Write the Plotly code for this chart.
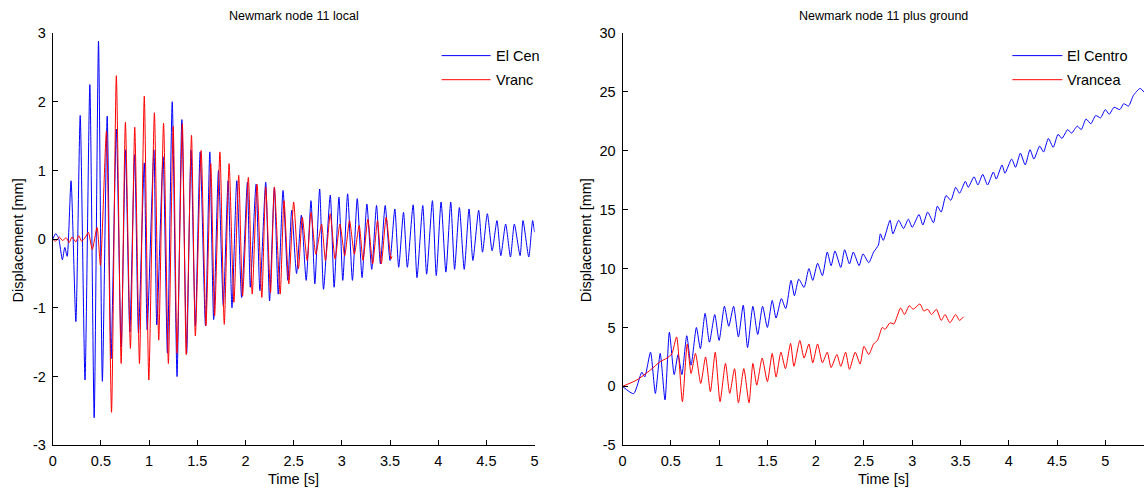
import plotly.graph_objects as go

# ---------------------------------------------------------------------------
# Newmark time-history results for node 11 (time in s, displacement in mm).
# Each series is listed as successive turning points of the response.
# ---------------------------------------------------------------------------

SERIES_NAMES = ["El Centro", "Vrancea"]
SERIES_COLORS = ["#0000ff", "#ff0000"]

# Relative (local) displacement, El Centro record
ELC_LOCAL_T = [0.00, 0.03, 0.06, 0.10, 0.125, 0.15, 0.19, 0.24, 0.285, 0.335,
               0.385, 0.43, 0.475, 0.515, 0.565, 0.605, 0.66, 0.71, 0.755, 0.80,
               0.85, 0.89, 0.95, 0.98, 1.05, 1.08, 1.145, 1.19, 1.24, 1.29,
               1.34, 1.39, 1.435, 1.48, 1.53, 1.585, 1.63, 1.67, 1.72, 1.77,
               1.82, 1.86, 1.91, 1.96, 2.02, 2.05, 2.11, 2.15, 2.21, 2.25,
               2.30, 2.34, 2.39, 2.44, 2.48, 2.53, 2.58, 2.63, 2.68, 2.72,
               2.77, 2.81, 2.88, 2.92, 2.97, 3.01, 3.06, 3.11, 3.16, 3.21,
               3.26, 3.31, 3.36, 3.40, 3.45, 3.50, 3.55, 3.59, 3.64, 3.68,
               3.74, 3.78, 3.84, 3.88, 3.94, 3.98, 4.03, 4.08, 4.13, 4.17,
               4.22, 4.27, 4.32, 4.36, 4.42, 4.46, 4.51, 4.56, 4.61, 4.65,
               4.70, 4.75, 4.79, 4.85, 4.88, 4.94, 4.98, 5.00]
ELC_LOCAL_U = [0.00, 0.08, 0.02, -0.30, -0.12, -0.25, 0.85, -1.20, 1.80, -2.05,
               2.25, -2.60, 2.88, -2.07, 1.79, -1.74, 1.60, -1.57, 1.30, -1.35,
               1.23, -1.37, 1.11, -1.32, 1.30, -1.25, 1.20, -1.66, 2.00, -2.00,
               1.74, -1.66, 1.30, -1.26, 1.27, -1.26, 1.27, -1.17, 1.00, -0.97,
               0.85, -1.00, 0.85, -0.85, 0.83, -0.70, 0.80, -0.75, 0.83, -0.90,
               0.75, -0.80, 0.71, -0.60, 0.42, -0.50, 0.35, -0.60, 0.56, -0.65,
               0.73, -0.73, 0.64, -0.70, 0.61, -0.60, 0.66, -0.60, 0.59, -0.56,
               0.51, -0.44, 0.49, -0.36, 0.49, -0.31, 0.44, -0.41, 0.39, -0.41,
               0.50, -0.56, 0.49, -0.51, 0.56, -0.53, 0.54, -0.48, 0.54, -0.44,
               0.46, -0.44, 0.44, -0.31, 0.42, -0.19, 0.37, -0.17, 0.27, -0.24,
               0.22, -0.26, 0.22, -0.24, 0.27, -0.26, 0.27, 0.10]

# Relative (local) displacement, Vrancea record
VRN_LOCAL_T = [0.00, 0.03, 0.07, 0.10, 0.14, 0.17, 0.20, 0.24, 0.27, 0.30,
               0.34, 0.37, 0.41, 0.46, 0.495, 0.557, 0.61, 0.66, 0.71, 0.754,
               0.806, 0.851, 0.90, 0.95, 0.997, 1.055, 1.10, 1.15, 1.20, 1.25,
               1.29, 1.345, 1.385, 1.44, 1.48, 1.54, 1.59, 1.64, 1.68, 1.735,
               1.78, 1.83, 1.88, 1.93, 1.97, 2.03, 2.07, 2.12, 2.17, 2.21,
               2.26, 2.30, 2.36, 2.40, 2.45, 2.50, 2.55, 2.59, 2.64, 2.68,
               2.73, 2.79, 2.83, 2.88, 2.93, 2.98, 3.03, 3.08, 3.13, 3.18,
               3.22, 3.27, 3.32, 3.37, 3.41, 3.46, 3.51, 3.52]
VRN_LOCAL_U = [0.00, -0.03, 0.03, -0.02, 0.02, -0.05, 0.03, -0.04, 0.05, -0.03,
               0.03, 0.10, -0.15, 0.17, -0.38, 1.57, -2.52, 2.38, -1.81, 1.70,
               -1.59, 1.63, -1.81, 2.08, -2.05, 1.84, -1.47, 1.69, -1.81, 1.64,
               -1.66, 1.68, -1.68, 1.51, -1.41, 1.29, -1.26, 1.10, -1.12, 1.27,
               -1.24, 1.10, -0.92, 0.93, -0.83, 0.90, -0.80, 0.80, -0.85, 0.76,
               -0.78, 0.76, -0.80, 0.56, -0.65, 0.54, -0.43, 0.32, -0.31, 0.39,
               -0.22, 0.22, -0.31, 0.37, -0.29, 0.22, -0.24, 0.27, -0.22, 0.20,
               -0.31, 0.29, -0.36, 0.27, -0.36, 0.32, -0.29, -0.25]

# Total displacement (local + ground), El Centro record
ELC_TOTAL_T = [0.00, 0.115, 0.20, 0.23, 0.29, 0.34, 0.39, 0.44, 0.485, 0.535,
               0.575, 0.615, 0.665, 0.71, 0.765, 0.806, 0.855, 0.90, 0.955, 1.00,
               1.055, 1.10, 1.15, 1.20, 1.25, 1.295, 1.35, 1.40, 1.45, 1.50,
               1.55, 1.59, 1.645, 1.69, 1.745, 1.78, 1.825, 1.88, 1.93, 1.97,
               2.02, 2.07, 2.12, 2.16, 2.20, 2.26, 2.30, 2.35, 2.39, 2.45,
               2.49, 2.55, 2.60, 2.65, 2.67, 2.70, 2.77, 2.80, 2.86, 2.91,
               2.96, 3.00, 3.07, 3.11, 3.16, 3.22, 3.26, 3.30, 3.35, 3.40,
               3.45, 3.49, 3.55, 3.58, 3.64, 3.68, 3.73, 3.78, 3.84, 3.87,
               3.93, 3.96, 4.03, 4.07, 4.12, 4.17, 4.22, 4.26, 4.32, 4.36,
               4.41, 4.46, 4.51, 4.55, 4.61, 4.65, 4.71, 4.75, 4.80, 4.85,
               4.90, 4.95, 5.00, 5.04, 5.09, 5.15, 5.19, 5.24, 5.29, 5.36,
               5.40]
ELC_TOTAL_U = [0.00, -0.62, 1.20, 0.80, 2.90, -0.60, 2.80, -1.15, 4.60, 1.00,
               2.70, 1.00, 4.30, 1.80, 5.00, 3.20, 6.20, 3.75, 6.10, 3.90,
               6.80, 5.10, 6.80, 4.20, 6.90, 3.30, 6.80, 4.40, 6.80, 5.00,
               7.30, 5.80, 7.45, 6.60, 9.00, 7.70, 9.10, 8.40, 10.00, 9.00,
               10.45, 9.40, 11.40, 10.25, 11.50, 10.10, 11.60, 10.40, 11.40, 10.25,
               11.25, 10.50, 11.40, 12.00, 12.95, 12.40, 14.10, 12.95, 14.10, 13.40,
               14.20, 13.50, 14.60, 13.70, 14.80, 13.90, 15.30, 14.80, 16.20, 15.80,
               16.90, 16.40, 17.40, 16.90, 17.80, 17.10, 18.00, 17.10, 18.20, 17.60,
               18.80, 18.10, 19.30, 18.60, 19.80, 18.80, 20.10, 19.30, 20.40, 19.90,
               21.05, 20.30, 21.40, 21.05, 21.80, 21.50, 22.10, 21.80, 22.70, 22.30,
               23.00, 22.80, 23.50, 23.10, 23.70, 23.50, 24.00, 23.80, 24.70, 25.30,
               25.00]

# Total displacement (local + ground), Vrancea record
VRN_TOTAL_T = [0.00, 0.15, 0.29, 0.39, 0.46, 0.51, 0.56, 0.62, 0.67, 0.71,
               0.755, 0.81, 0.86, 0.91, 0.96, 1.01, 1.066, 1.11, 1.16, 1.20,
               1.256, 1.31, 1.35, 1.39, 1.446, 1.50, 1.55, 1.59, 1.64, 1.687,
               1.74, 1.775, 1.836, 1.88, 1.93, 1.97, 2.02, 2.07, 2.12, 2.16,
               2.22, 2.26, 2.31, 2.35, 2.41, 2.46, 2.50, 2.55, 2.60, 2.64,
               2.69, 2.72, 2.77, 2.81, 2.88, 2.92, 2.97, 3.01, 3.08, 3.12,
               3.16, 3.20, 3.25, 3.30, 3.34, 3.39, 3.45, 3.49, 3.53]
VRN_TOTAL_U = [0.00, 0.55, 1.40, 2.10, 2.40, 2.75, 4.20, -1.30, 3.60, 1.10,
               2.80, 0.25, 2.50, -0.45, 2.90, -1.30, 1.95, -0.60, 1.50, -1.40,
               1.50, -1.40, 1.95, 0.10, 2.40, 0.40, 2.80, 0.80, 2.90, 1.50,
               3.65, 1.70, 3.90, 2.40, 3.60, 2.00, 3.60, 2.00, 2.90, 1.60,
               2.70, 1.70, 2.90, 1.45, 2.90, 1.90, 3.40, 2.70, 3.60, 3.90,
               5.00, 4.85, 5.40, 5.30, 6.65, 6.10, 6.85, 6.55, 7.00, 6.40,
               6.55, 6.10, 6.55, 5.60, 6.10, 5.40, 6.10, 5.60, 5.90]

X_TICKS = [0, 0.5, 1, 1.5, 2, 2.5, 3, 3.5, 4, 4.5, 5]
Y_TICKS_LOCAL = [-3, -2, -1, 0, 1, 2, 3]
Y_TICKS_TOTAL = [-5, 0, 5, 10, 15, 20, 25, 30]

TITLES = ["Newmark node 11 local", "Newmark node 11 plus ground"]
X_LABEL = "Time [s]"
Y_LABEL = "Displacement [mm]"

# ---------------------------------------------------------------------------
# Layout positions are given in display pixels (1144 x 488 view) and mapped to
# the figure's own pixels, which sit inside the page body margin.
BODY = 8
SX, DX = 0.9934, -4.7
SY, DY = 0.965, 0.3
FIG_W, FIG_H = 1149, 497
FONT = "Liberation Sans, Arial, sans-serif"


def fig_px_x(d):
    return (d - DX) / SX - BODY


def fig_px_y(d):
    return (d - DY) / SY - BODY


def fx(d):
    return min(1.0, max(0.0, fig_px_x(d) / FIG_W))


def fy(d):
    return min(1.0, max(0.0, 1 - fig_px_y(d) / FIG_H))


def line(color):
    return dict(color=color, width=1, shape="spline", smoothing=0.6)


fig = go.Figure()
fig.add_trace(go.Scatter(x=ELC_LOCAL_T, y=ELC_LOCAL_U, mode="lines", name=SERIES_NAMES[0],
                         line=line(SERIES_COLORS[0]), xaxis="x", yaxis="y"))
fig.add_trace(go.Scatter(x=VRN_LOCAL_T, y=VRN_LOCAL_U, mode="lines", name=SERIES_NAMES[1],
                         line=line(SERIES_COLORS[1]), xaxis="x", yaxis="y"))
fig.add_trace(go.Scatter(x=ELC_TOTAL_T, y=ELC_TOTAL_U, mode="lines", name=SERIES_NAMES[0],
                         line=line(SERIES_COLORS[0]), xaxis="x2", yaxis="y2"))
fig.add_trace(go.Scatter(x=VRN_TOTAL_T, y=VRN_TOTAL_U, mode="lines", name=SERIES_NAMES[1],
                         line=line(SERIES_COLORS[1]), xaxis="x2", yaxis="y2"))

tick_font = dict(family=FONT, size=14.5, color="#000000")
axis_common = dict(showline=True, linecolor="#000000", linewidth=1, ticks="inside",
                   ticklen=5, tickcolor="#000000", showgrid=False, zeroline=False,
                   tickfont=tick_font, mirror=False)
x_axis_common = dict(axis_common, ticklabelstandoff=2)
y_axis_common = dict(axis_common, ticklabelstandoff=3)

y_dom = [fy(444), fy(33)]
# right panel: t = 0 at x = 622, t = 5 at x = 1105 (display pixels)
px_per_s = (fig_px_x(1105) - fig_px_x(622)) / 5
right_end_t = (FIG_W * fx(1144) - fig_px_x(622)) / px_per_s

fig.update_layout(
    width=FIG_W, height=FIG_H,
    margin=dict(l=0, r=0, t=0, b=0),
    paper_bgcolor="white", plot_bgcolor="white",
    showlegend=False,
    xaxis=dict(domain=[fx(52), fx(534)], range=[0, 5], anchor="y",
               tickvals=X_TICKS, ticktext=[f"{v:g}" for v in X_TICKS], **x_axis_common),
    yaxis=dict(domain=y_dom, range=[-3, 3], anchor="x",
               tickvals=Y_TICKS_LOCAL, ticktext=[f"{v:g}" for v in Y_TICKS_LOCAL], **y_axis_common),
    xaxis2=dict(domain=[fx(622), fx(1144)], range=[0, right_end_t], anchor="y2",
                tickvals=X_TICKS, ticktext=[f"{v:g}" for v in X_TICKS], **x_axis_common),
    yaxis2=dict(domain=y_dom, range=[-5, 30], anchor="x2",
                tickvals=Y_TICKS_TOTAL, ticktext=[f"{v:g}" for v in Y_TICKS_TOTAL], **y_axis_common),
)

text_font = dict(family=FONT, size=14.5, color="#000000")
title_font = dict(family=FONT, size=12.5, color="#000000")
annotations = []
shapes = []

# panel titles and axis labels
for cx, title, ylab_x in [(293, TITLES[0], 17), (883, TITLES[1], 585)]:
    annotations.append(dict(x=fx(cx), y=fy(16), xref="paper", yref="paper", text=title,
                            showarrow=False, font=title_font, xanchor="center", yanchor="middle"))
    annotations.append(dict(x=fx(cx), y=fy(478), xref="paper", yref="paper", text=X_LABEL,
                            showarrow=False, font=text_font, xanchor="center", yanchor="middle"))
    annotations.append(dict(x=fx(ylab_x), y=fy(240), xref="paper", yref="paper", text=Y_LABEL,
                            showarrow=False, font=text_font, textangle=-90,
                            xanchor="center", yanchor="middle"))

# legends (the left one is cut off at the panel edge)
legend_specs = [
    (441, 490, [SERIES_NAMES[0][:6], SERIES_NAMES[1][:5]]),
    (1012, 1062, SERIES_NAMES),
]
for x0, x1, labels in legend_specs:
    for row, (label, color) in enumerate(zip(labels, SERIES_COLORS)):
        yy = 55.5 + 24 * row
        shapes.append(dict(type="line", xref="paper", yref="paper",
                           x0=fx(x0), x1=fx(x1), y0=fy(yy), y1=fy(yy),
                           line=dict(color=color, width=1)))
        annotations.append(dict(x=fx(x1 + 3), y=fy(yy), xref="paper", yref="paper",
                                text=label, showarrow=False, font=text_font,
                                xanchor="left", yanchor="middle"))

fig.update_layout(annotations=annotations, shapes=shapes)

fig.write_html("out.html")
